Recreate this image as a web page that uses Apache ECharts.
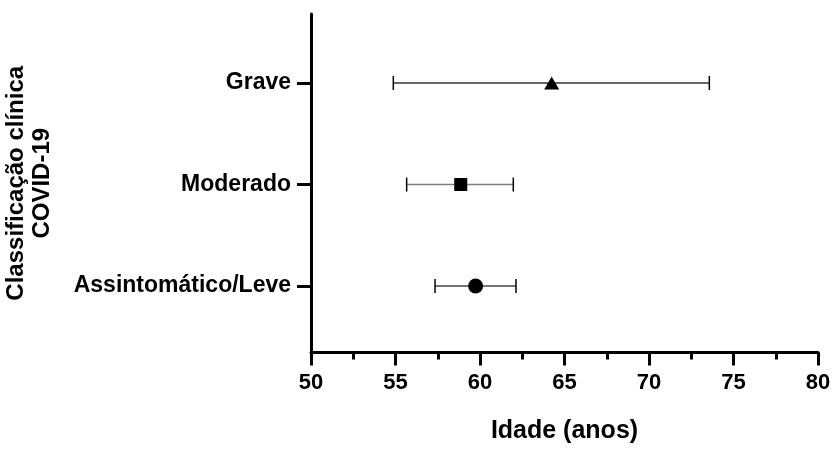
<!DOCTYPE html>
<html>
<head>
<meta charset="utf-8">
<script src="https://cdn.jsdelivr.net/npm/echarts@6/dist/echarts.min.js"></script>
<style>
  html, body { margin: 0; padding: 0; background: #fff; }
  #chart { width: 834px; height: 466px; }
</style>
</head>
<body>
<div id="chart"></div>
<script>
// groups, bottom to top
const categories = ['Assintomático/Leve', 'Moderado', 'Grave'];
const means = [59.74, 58.86, 64.24];
const lows = [57.34, 55.66, 54.87];
const highs = [62.13, 61.97, 73.57];
const symbols = ['circle', 'rect', 'triangle'];
const barColors = ['#444', '#808080', '#333'];
const xTicks = [50, 55, 60, 65, 70, 75, 80];

const font = 'Liberation Sans, Arial, sans-serif';
let chart = echarts.init(document.getElementById('chart'));

const errData = categories.map((c, i) => [i, lows[i], highs[i]]);
const pointData = categories.map((c, i) => ({
  value: [means[i], i],
  symbol: symbols[i],
  symbolSize: symbols[i] === 'rect' ? 13 : (symbols[i] === 'triangle' ? [15, 13] : 15)
}));

chart.setOption({
  animation: false,
  grid: { left: 311, right: 16, top: 14, bottom: 113.5, outerBoundsMode: 'none', containLabel: false },
  xAxis: {
    type: 'value',
    min: xTicks[0],
    max: xTicks[xTicks.length - 1],
    interval: 5,
    name: 'Idade (anos)',
    nameLocation: 'middle',
    nameGap: 66,
    nameTextStyle: { fontFamily: font, fontWeight: 'bold', fontSize: 25, color: '#000' },
    axisLine: { onZero: false, lineStyle: { color: '#000', width: 3 } },
    axisTick: { length: 13, lineStyle: { color: '#000', width: 3 } },
    minorTick: { show: true, splitNumber: 2, length: 7, lineStyle: { color: '#000', width: 3 } },
    splitLine: { show: false },
    axisLabel: { margin: 19, fontFamily: font, fontWeight: 'bold', fontSize: 22, color: '#000' }
  },
  yAxis: {
    type: 'value',
    min: -0.655,
    max: 2.68,
    name: 'Classificação clínica\nCOVID-19',
    nameLocation: 'middle',
    nameRotate: 90,
    nameGap: 256,
    nameTextStyle: { fontFamily: font, fontWeight: 'bold', fontSize: 24, color: '#000', lineHeight: 26, align: 'center' },
    axisLine: { onZero: false, lineStyle: { color: '#000', width: 3 } },
    axisTick: { customValues: [0, 1, 2], length: 14, lineStyle: { color: '#000', width: 3 } },
    splitLine: { show: false },
    axisLabel: {
      customValues: [0, 1, 2],
      margin: 20,
      fontFamily: font, fontWeight: 'bold', fontSize: 23, color: '#000',
      formatter: v => categories[Math.round(v)]
    }
  },
  series: [
    {
      type: 'custom',
      data: errData,
      z: 2,
      renderItem: function (params, api) {
        const i = api.value(0);
        const lo = api.coord([api.value(1), i]);
        const hi = api.coord([api.value(2), i]);
        const h = 7;
        const col = barColors[i];
        return {
          type: 'group',
          children: [
            { type: 'line', shape: { x1: lo[0], y1: lo[1], x2: hi[0], y2: hi[1] }, style: { stroke: col, lineWidth: 1.6 } },
            { type: 'line', shape: { x1: lo[0], y1: lo[1] - h, x2: lo[0], y2: lo[1] + h }, style: { stroke: '#000', lineWidth: 1.5 } },
            { type: 'line', shape: { x1: hi[0], y1: hi[1] - h, x2: hi[0], y2: hi[1] + h }, style: { stroke: '#000', lineWidth: 1.5 } }
          ]
        };
      }
    },
    {
      type: 'scatter',
      z: 3,
      data: pointData,
      itemStyle: { color: '#000', opacity: 1 }
    }
  ]
});
</script>
</body>
</html>
